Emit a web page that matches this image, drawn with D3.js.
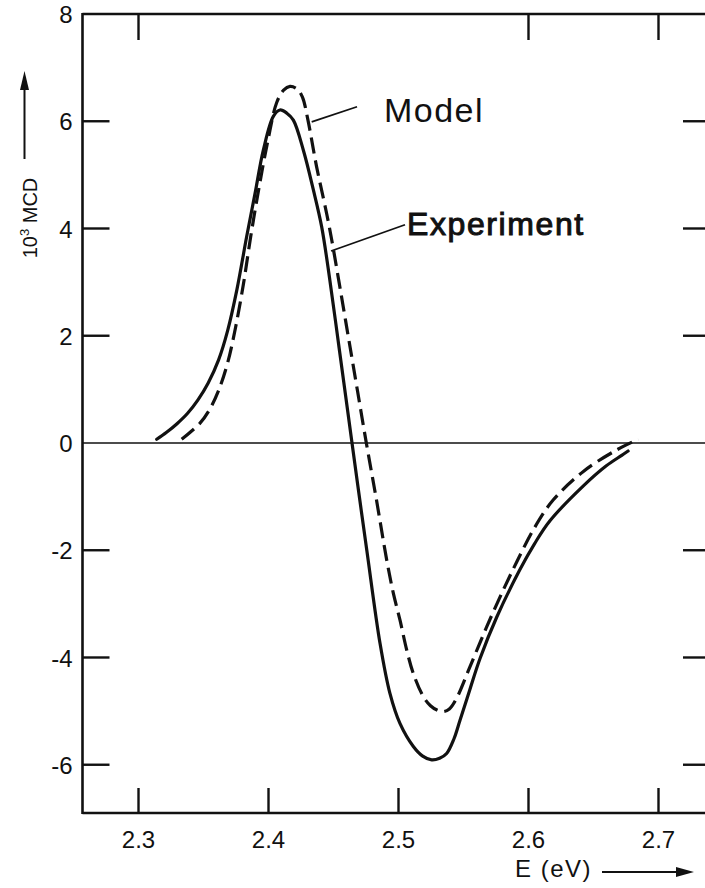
<!DOCTYPE html>
<html>
<head>
<meta charset="utf-8">
<script src="https://cdn.jsdelivr.net/npm/d3@7"></script>
<style>
  html, body { margin: 0; padding: 0; background: #fff; }
  svg { display: block; }
  text { font-family: "Liberation Sans", Arial, sans-serif; fill: #111; }
</style>
</head>
<body>
<svg id="chart" width="705" height="888"></svg>
<script>
// ---- data ----
const experimentE = [2.3144, 2.322, 2.330, 2.338, 2.346, 2.354, 2.362, 2.369, 2.376, 2.3836, 2.390, 2.3964, 2.4041, 2.4092, 2.4145, 2.4195, 2.4272, 2.4349, 2.4413, 2.4475, 2.455, 2.462, 2.469, 2.476, 2.4862, 2.4938, 2.5015, 2.5118, 2.5190, 2.5259, 2.5320, 2.5374, 2.5430, 2.5477, 2.5550, 2.5631, 2.5759, 2.5938, 2.605, 2.6169, 2.6426, 2.660, 2.6721, 2.677];
const experimentMCD = [0.07, 0.20, 0.36, 0.55, 0.80, 1.12, 1.55, 2.10, 2.85, 3.85, 4.65, 5.46, 6.09, 6.21, 6.15, 6.02, 5.46, 4.72, 4.03, 3.05, 1.72, 0.47, -0.78, -2.00, -3.74, -4.67, -5.23, -5.66, -5.84, -5.91, -5.88, -5.79, -5.52, -5.17, -4.62, -4.02, -3.25, -2.36, -1.88, -1.45, -0.80, -0.43, -0.23, -0.15];

const modelE = [2.3336, 2.3477, 2.355, 2.362, 2.369, 2.375, 2.381, 2.3867, 2.393, 2.400, 2.4067, 2.4120, 2.4169, 2.4225, 2.4265, 2.4305, 2.4374, 2.4451, 2.449, 2.455, 2.462, 2.469, 2.476, 2.483, 2.4913, 2.4964, 2.5015, 2.5067, 2.5118, 2.5195, 2.5250, 2.5300, 2.5348, 2.5395, 2.5451, 2.5554, 2.5682, 2.5810, 2.5913, 2.605, 2.6195, 2.6426, 2.6682, 2.6849];
const modelMCD = [0.07, 0.37, 0.62, 0.98, 1.50, 2.15, 2.95, 3.85, 4.75, 5.65, 6.35, 6.58, 6.65, 6.60, 6.45, 6.05, 5.15, 4.28, 3.79, 2.95, 1.95, 0.95, -0.05, -1.00, -2.18, -2.80, -3.30, -3.86, -4.30, -4.73, -4.90, -4.98, -5.01, -4.96, -4.76, -4.17, -3.43, -2.74, -2.22, -1.58, -1.06, -0.53, -0.13, 0.07];

const xTicksBottom = [2.3, 2.4, 2.5, 2.6, 2.7];
const xTicksTop = [2.3, 2.6, 2.7];
const yTickLabels = [8, 6, 4, 2, 0, -2, -4, -6];
const yTicksSides = [6, 4, 2, -2, -4, -6];

// annotation anchors (data units)
const modelLabel = { text: "Model", E: 2.4892, v: 5.98, lineFrom: [2.4336, 5.99], lineTo: [2.4685, 6.27] };
const expLabel = { text: "Experiment", E: 2.5069, v: 3.88, lineFrom: [2.4485, 3.58], lineTo: [2.5054, 4.07] };

// ---- layout ----
const svg = d3.select("#chart");
const pL = 82.5, pR = 707, pT = 14, pB = 813;
const x = d3.scaleLinear().domain([2.2573, 2.7377]).range([pL, pR]);
const y = d3.scaleLinear().domain([-6.9, 8]).range([pB, pT]);

const ink = "#111";

// frame: left, top, bottom axes (right edge falls outside the picture)
const frame = svg.append("g").attr("stroke", ink).attr("stroke-width", 2.6).attr("fill", "none");
frame.append("line").attr("x1", pL).attr("x2", pL).attr("y1", pT - 1).attr("y2", pB + 1);
frame.append("line").attr("x1", pL).attr("x2", pR).attr("y1", pT).attr("y2", pT);
frame.append("line").attr("x1", pL).attr("x2", pR).attr("y1", pB).attr("y2", pB);
frame.append("line").attr("x1", pR).attr("x2", pR).attr("y1", pT).attr("y2", pB);

// zero line
svg.append("line").attr("x1", pL).attr("x2", pR).attr("y1", y(0)).attr("y2", y(0))
  .attr("stroke", ink).attr("stroke-width", 1.6);

// bottom axis ticks and labels via d3 axis
const xAxisB = d3.axisBottom(x).tickValues(xTicksBottom).tickSize(-25).tickFormat(d3.format(".1f")).tickPadding(0);
const gB = svg.append("g").attr("transform", `translate(0,${pB})`).call(xAxisB);
gB.select(".domain").remove();
gB.selectAll(".tick line").attr("stroke", ink).attr("stroke-width", 2.4);
gB.selectAll(".tick text").attr("y", 35).attr("dy", null).attr("font-size", 24)
  .style("font-family", "'Liberation Sans', Arial, sans-serif").attr("fill", ink);

// top ticks
const xAxisT = d3.axisTop(x).tickValues(xTicksTop).tickSize(-26).tickFormat("");
const gT = svg.append("g").attr("transform", `translate(0,${pT})`).call(xAxisT);
gT.select(".domain").remove();
gT.selectAll(".tick line").attr("stroke", ink).attr("stroke-width", 2.4);

// left axis labels + ticks
const yAxisL = d3.axisLeft(y).tickValues(yTickLabels).tickSize(0).tickPadding(10).tickFormat(d => d < 0 ? "-" + Math.abs(d) : String(d));
const gL = svg.append("g").attr("transform", `translate(${pL},0)`).call(yAxisL);
gL.select(".domain").remove();
gL.selectAll(".tick text").attr("font-size", 24).attr("dy", "0.36em")
  .style("font-family", "'Liberation Sans', Arial, sans-serif").attr("fill", ink);
svg.append("g").selectAll("line").data(yTicksSides).join("line")
  .attr("x1", pL).attr("x2", pL + 27).attr("y1", d => y(d)).attr("y2", d => y(d))
  .attr("stroke", ink).attr("stroke-width", 2.4);
// right ticks
svg.append("g").selectAll("line").data(yTicksSides).join("line")
  .attr("x1", 683).attr("x2", pR).attr("y1", d => y(d)).attr("y2", d => y(d))
  .attr("stroke", ink).attr("stroke-width", 2.4);

// curves
const line = d3.line().x(d => x(d[0])).y(d => y(d[1])).curve(d3.curveCatmullRom.alpha(0.5));
const expData = experimentE.map((e, i) => [e, experimentMCD[i]]);
const modData = modelE.map((e, i) => [e, modelMCD[i]]);

svg.append("path").datum(expData).attr("d", line)
  .attr("fill", "none").attr("stroke", ink).attr("stroke-width", 3.2).attr("stroke-linecap", "round");
svg.append("path").datum(modData).attr("d", line)
  .attr("fill", "none").attr("stroke", ink).attr("stroke-width", 3.2)
  .attr("stroke-dasharray", "16,7");

// annotations
[modelLabel, expLabel].forEach(a => {
  svg.append("line")
    .attr("x1", x(a.lineFrom[0])).attr("y1", y(a.lineFrom[1]))
    .attr("x2", x(a.lineTo[0])).attr("y2", y(a.lineTo[1]))
    .attr("stroke", ink).attr("stroke-width", 1.8);
});
svg.append("text").attr("x", x(modelLabel.E)).attr("y", y(modelLabel.v))
  .attr("font-size", 34).attr("letter-spacing", 1.5).text(modelLabel.text);
svg.append("text").attr("x", x(expLabel.E)).attr("y", y(expLabel.v))
  .attr("font-size", 32).attr("letter-spacing", 1.6)
  .attr("stroke", ink).attr("stroke-width", 1).text(expLabel.text);

// x axis title with arrow
svg.append("text").attr("x", 515).attr("y", 877).attr("font-size", 24).attr("letter-spacing", 1.5).text("E (eV)");
svg.append("line").attr("x1", 602).attr("x2", 680).attr("y1", 872).attr("y2", 872).attr("stroke", ink).attr("stroke-width", 2);
svg.append("path").attr("d", "M676,867 L694,872 L676,877 Z").attr("fill", ink);

// y axis title with arrow
const yt = svg.append("text").attr("transform", "translate(37,218) rotate(-90)")
  .attr("text-anchor", "middle").attr("font-size", 20);
yt.append("tspan").text("10");
yt.append("tspan").attr("font-size", 13).attr("dy", -8).text("3");
yt.append("tspan").attr("dy", 8).text(" MCD");
svg.append("line").attr("x1", 24.5).attr("x2", 24.5).attr("y1", 159).attr("y2", 85).attr("stroke", ink).attr("stroke-width", 2);
svg.append("path").attr("d", "M20,90 L24.5,71 L29,90 Z").attr("fill", ink);
</script>
</body>
</html>
